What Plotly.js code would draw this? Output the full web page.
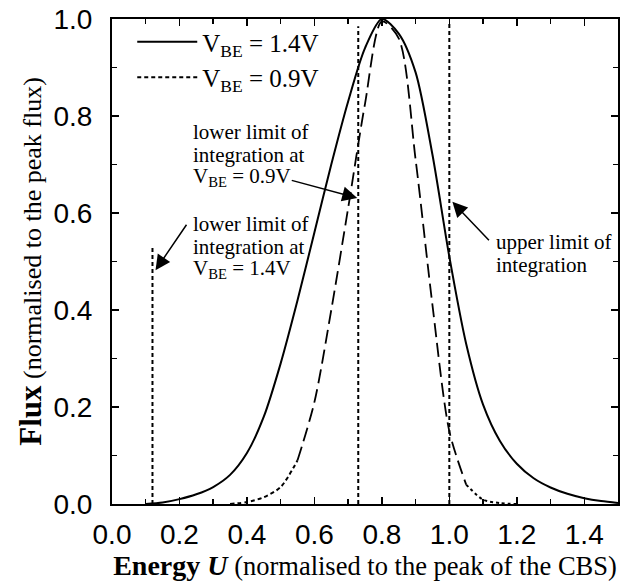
<!DOCTYPE html>
<html>
<head>
<meta charset="utf-8">
<script src="https://cdn.plot.ly/plotly-3.0.1.min.js"></script>
<style>html,body{margin:0;padding:0;background:#fff;}#chart{width:632px;height:585px;}</style>
</head>
<body>
<div id="chart"></div>
<script>
// V_BE = 1.4V (solid)
const u14 = [0.10,0.15,0.20,0.25,0.30,0.35,0.40,0.45,0.50,0.55,0.60,0.65,0.70,0.75,0.80,0.85,0.90,0.95,1.00,1.05,1.10,1.15,1.20,1.25,1.30,1.35,1.40,1.45,1.50];
const flux14 = [0.000,0.003,0.010,0.020,0.035,0.060,0.105,0.180,0.290,0.420,0.560,0.700,0.830,0.940,1.000,0.970,0.890,0.720,0.510,0.330,0.205,0.130,0.083,0.053,0.034,0.021,0.012,0.006,0.002];
// V_BE = 0.9V (dashed)
const u09 = [0.35,0.40,0.45,0.50,0.55,0.60,0.65,0.70,0.75,0.80,0.85,0.90,0.95,1.00,1.05,1.10,1.15,1.20];
const flux09 = [0.000,0.004,0.014,0.035,0.090,0.210,0.400,0.610,0.825,0.995,0.960,0.710,0.410,0.150,0.040,0.009,0.002,0.000];
// integration limits (vertical dotted lines)
const limitU = [0.12, 0.73, 1.00];
const limitTop = [0.53, 0.985, 0.99];
const xTicks = [0.0,0.2,0.4,0.6,0.8,1.0,1.2,1.4];
const yTicks = [0.0,0.2,0.4,0.6,0.8,1.0];
// annotation labels (one entry per text line)
const labelLines = [
  ['lower limit of', 0.2385, 0.767], ['integration at', 0.2385, 0.719], ['V<sub>BE</sub> = 0.9V', 0.2385, 0.674],
  ['lower limit of', 0.2385, 0.577], ['integration at', 0.2385, 0.529], ['V<sub>BE</sub> = 1.4V', 0.2385, 0.484],
  ['upper limit of', 1.136, 0.540], ['integration', 1.136, 0.493]
];
// arrow tips [U, flux, tail dx px, tail dy px]
const arrows = [[0.727, 0.631, -67, -18], [0.129, 0.482, 32, -47], [1.009, 0.623, 38, 40]];

// split the 0.9V curve into dotted tails and long-dashed centre
const lowSplit = 0.55, highSplit = 1.05;
function pick(cond){const x=[],y=[];u09.forEach((u,i)=>{if(cond(u)){x.push(u);y.push(flux09[i]);}});return {x,y};}
const tailL = pick(u=>u<=lowSplit), mid = pick(u=>u>=lowSplit && u<=highSplit), tailR = pick(u=>u>=highSplit);

const traces = [
  {x:u14, y:flux14, mode:'lines', line:{color:'#000', width:2, shape:'spline', smoothing:0.8}, name:'V<sub>BE</sub> = 1.4V'},
  {x:tailL.x, y:tailL.y, mode:'lines', line:{color:'#000', width:2, dash:'4px,3px', shape:'spline', smoothing:0.8}, name:'V<sub>BE</sub> = 0.9V', legendgroup:'g09'},
  {x:mid.x, y:mid.y, mode:'lines', line:{color:'#000', width:1.8, dash:'14px,6px', shape:'spline', smoothing:0.8}, showlegend:false, legendgroup:'g09'},
  {x:tailR.x, y:tailR.y, mode:'lines', line:{color:'#000', width:2, dash:'3px,3px', shape:'spline', smoothing:0.8}, showlegend:false, legendgroup:'g09'}
];
limitU.forEach((u,i)=>traces.push({x:[u,u], y:[0,limitTop[i]], mode:'lines', line:{color:'#000', width:2, dash:'4px,3px'}, showlegend:false}));

const serif = 'Liberation Serif, Times New Roman, serif';
const sans = 'Liberation Sans, Arial, sans-serif';
const annotations = [];
labelLines.forEach(l=>annotations.push({showarrow:false, xref:'x', yref:'y', xanchor:'left', yanchor:'middle', align:'left',
  x:l[1], y:l[2], text:l[0], font:{family:serif, size:21, color:'#000'}, borderpad:0}));
arrows.forEach(a=>annotations.push({showarrow:true, arrowhead:2, arrowsize:2, arrowwidth:1.5, arrowcolor:'#000', text:'',
  xref:'x', yref:'y', axref:'pixel', ayref:'pixel', x:a[0], y:a[1], ax:a[2], ay:a[3]}));

const layout = {
  width:632, height:585,
  margin:{l:111.5, r:14, t:19, b:81},
  paper_bgcolor:'#fff', plot_bgcolor:'#fff',
  showlegend:true,
  legend:{x:0.04, y:1.0, xanchor:'left', yanchor:'top', bgcolor:'rgba(0,0,0,0)', borderwidth:0,
          font:{family:serif, size:25, color:'#000'}, itemwidth:60, tracegroupgap:0},
  xaxis:{range:[0,1.5], tickvals:xTicks, ticktext:xTicks.map(v=>v.toFixed(1)), ticks:'inside', ticklen:7, tickwidth:1.5, tickcolor:'#000',
         minor:{dtick:0.1, ticks:'inside', ticklen:5, tickwidth:1.5, tickcolor:'#000'},
         showline:true, linecolor:'#000', linewidth:2, mirror:'allticks', showgrid:false, zeroline:false,
         tickfont:{family:sans, size:28, color:'#000'}, ticklabelstandoff:4,
         title:{text:'<span style="font-size:28px"><b>Energy</b> <b><i>U</i></b></span> (normalised to the peak of the CBS)', font:{family:serif, size:26.5, color:'#000'}, standoff:2}},
  yaxis:{range:[0,1.0], tickvals:yTicks, ticktext:yTicks.map(v=>v.toFixed(1)), ticks:'inside', ticklen:7, tickwidth:1.5, tickcolor:'#000',
         minor:{dtick:0.1, ticks:'inside', ticklen:5, tickwidth:1.5, tickcolor:'#000'},
         showline:true, linecolor:'#000', linewidth:2, mirror:'allticks', showgrid:false, zeroline:false,
         tickfont:{family:sans, size:28, color:'#000'}, ticklabelstandoff:12,
         title:{text:'<span style="font-size:31px"><b>Flux</b></span> (normalised to the peak flux)', font:{family:serif, size:26, color:'#000'}, standoff:4}},
  annotations:annotations
};
Plotly.newPlot('chart', traces, layout, {displayModeBar:false, staticPlot:true});
</script>
</body>
</html>
